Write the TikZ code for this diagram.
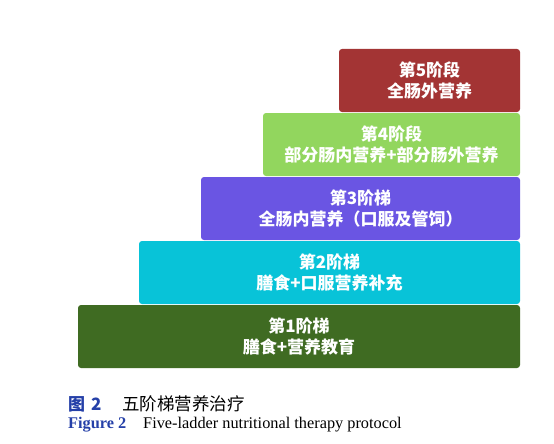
\documentclass[tikz,border=0pt]{standalone}
\usepackage{fontspec}
\setmainfont{Liberation Serif}
\newfontfamily\cjk{Noto Sans CJK SC}
\usetikzlibrary{positioning}

\definecolor{stepfive}{HTML}{A33434}
\definecolor{stepfour}{HTML}{92D65E}
\definecolor{stepthree}{HTML}{6A55E3}
\definecolor{steptwo}{HTML}{08C3D8}
\definecolor{stepone}{HTML}{3F6B22}
\definecolor{capblue}{HTML}{2540A8}

\begin{document}
\begin{tikzpicture}[x=1pt, y=-1pt,
  ladder/.style={rectangle, rounded corners=3pt, inner sep=0pt, minimum height=63pt,
    text=white, align=center, font=\cjk\bfseries\fontsize{17}{21.5}\selectfont}]

\useasboundingbox (0, 0) rectangle (554, 444);

% Step 1: diet + education
\node[ladder, fill=stepone, minimum width=442pt] (stepI) at (299, 336.5) {第1阶梯\\膳食+营养教育};

% Step 2: oral supplements
\node[ladder, fill=steptwo, minimum width=381pt] (stepII) at (329.5, 272.5) {第2阶梯\\膳食+口服营养补充};

% Step 3: total enteral
\node[ladder, fill=stepthree, minimum width=319pt] (stepIII) at (360.5, 208.5) {第3阶梯\\全肠内营养（口服及管饲）};

% Step 4: partial enteral + parenteral
\node[ladder, fill=stepfour, minimum width=257pt] (stepIV) at (391.5, 144.5) {第4阶段\\部分肠内营养+部分肠外营养};

% Step 5: total parenteral
\node[ladder, fill=stepfive, minimum width=181pt] (stepV) at (429.5, 80.5) {第5阶段\\全肠外营养};

% Caption
\node[anchor=base west, inner sep=0pt, text=capblue, font=\cjk\bfseries\fontsize{17}{17}\selectfont] (capzh) at (68, 410) {图\hspace{6pt}2};
\node[anchor=base west, inner sep=0pt, font=\cjk\fontsize{17.5}{17.5}\selectfont] (capzhtext) at (122, 410) {五阶梯营养治疗};
\node[anchor=base west, inner sep=0pt, text=capblue, font=\bfseries\fontsize{16.3}{16.3}\selectfont] (capen) at (68, 428) {Figure 2};
\node[anchor=base west, inner sep=0pt, font=\fontsize{16.3}{16.3}\selectfont] (capentext) at (143, 428) {Five-ladder nutritional therapy protocol};

\end{tikzpicture}
\end{document}
